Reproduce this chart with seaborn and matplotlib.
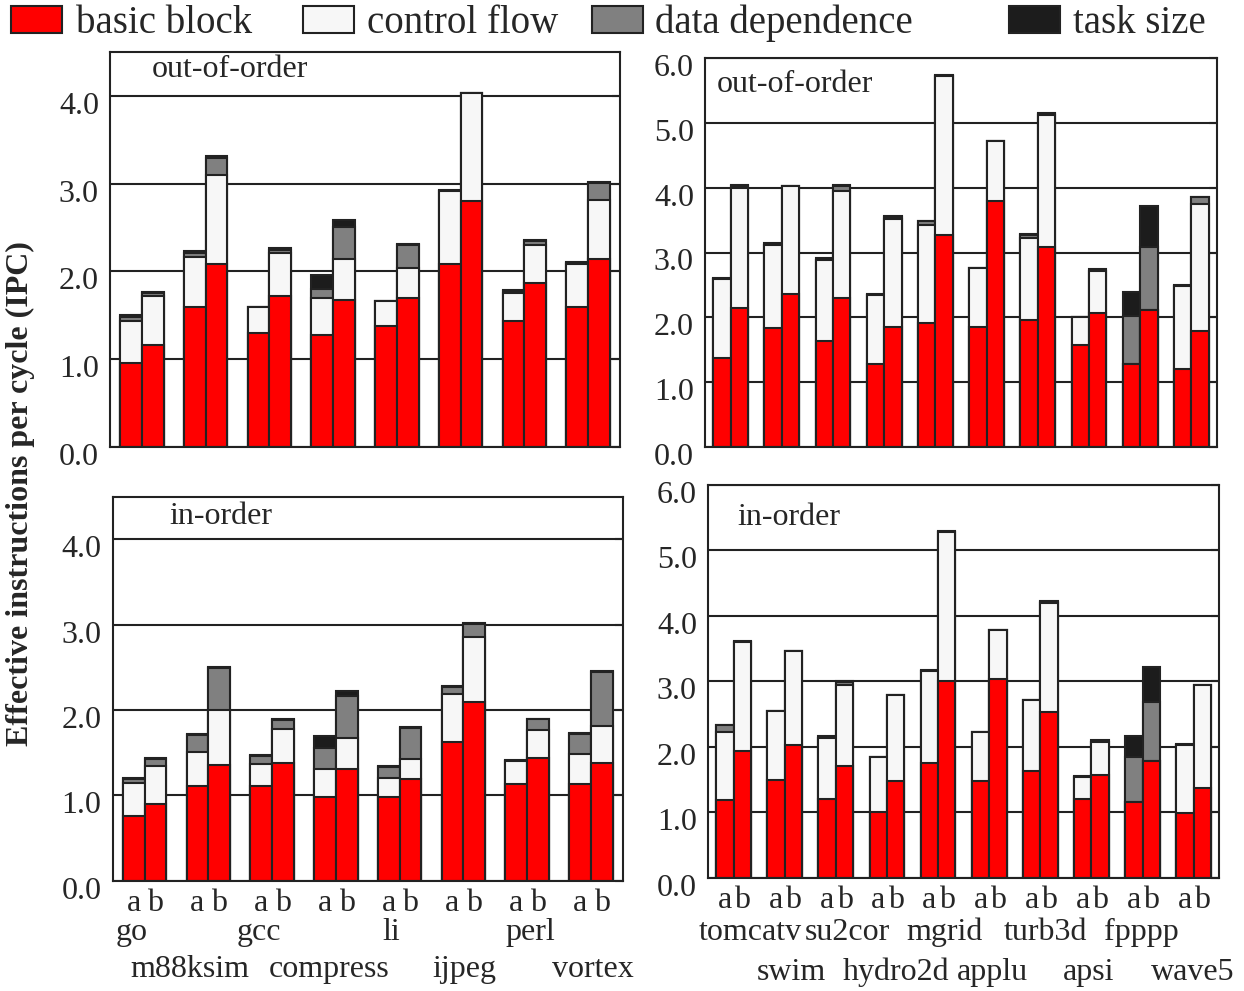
import numpy as np
import pandas as pd
import seaborn as sns
import matplotlib
matplotlib.use("Agg")
import matplotlib.pyplot as plt
from matplotlib.patches import Rectangle
from matplotlib.transforms import ScaledTranslation, blended_transform_factory

sns.set_style("white")
plt.rcParams['font.family'] = ['Liberation Serif', 'DejaVu Serif']

# benchmarks
int_bench = ['go', 'm88ksim', 'gcc', 'compress', 'li', 'ijpeg', 'perl', 'vortex']
fp_bench = ['tomcatv', 'swim', 'su2cor', 'hydro2d', 'mgrid', 'applu', 'turb3d', 'apsi', 'fpppp', 'wave5']

# integer, out-of-order: (a, b) per benchmark
int_ooo_bb = [(0.96, 1.16), (1.60, 2.09), (1.30, 1.72), (1.28, 1.68), (1.38, 1.70), (2.09, 2.80), (1.43, 1.87), (1.59, 2.14)]
int_ooo_cf = [(0.47, 0.56), (0.57, 1.01), (0.30, 0.49), (0.42, 0.46), (0.28, 0.34), (0.83, 1.23), (0.33, 0.43), (0.50, 0.67)]
int_ooo_dd = [(0.05, 0.03), (0.04, 0.19), (0.00, 0.04), (0.10, 0.37), (0.00, 0.26), (0.00, 0.00), (0.02, 0.05), (0.01, 0.20)]
int_ooo_ts = [(0.02, 0.02), (0.02, 0.03), (0.00, 0.02), (0.16, 0.08), (0.00, 0.01), (0.01, 0.00), (0.01, 0.01), (0.01, 0.01)]

# floating point, out-of-order
fp_ooo_bb = [(1.37, 2.15), (1.83, 2.36), (1.64, 2.30), (1.28, 1.86), (1.92, 3.27), (1.85, 3.79), (1.96, 3.09), (1.57, 2.07), (1.28, 2.12), (1.21, 1.79)]
fp_ooo_cf = [(1.22, 1.85), (1.28, 1.66), (1.25, 1.64), (1.07, 1.65), (1.51, 2.45), (0.91, 0.92), (1.27, 2.02), (0.43, 0.64), (0.00, 0.00), (1.27, 1.95)]
fp_ooo_dd = [(0.00, 0.02), (0.00, 0.00), (0.00, 0.08), (0.00, 0.04), (0.05, 0.00), (0.00, 0.00), (0.04, 0.03), (0.00, 0.00), (0.74, 0.96), (0.00, 0.11)]
fp_ooo_ts = [(0.01, 0.02), (0.03, 0.01), (0.03, 0.02), (0.01, 0.01), (0.01, 0.01), (0.00, 0.00), (0.01, 0.01), (0.00, 0.03), (0.37, 0.63), (0.02, 0.01)]

# integer, in-order
int_io_bb = [(0.76, 0.90), (1.11, 1.36), (1.11, 1.38), (0.98, 1.31), (0.98, 1.19), (1.62, 2.09), (1.13, 1.44), (1.13, 1.375)]
int_io_cf = [(0.39, 0.45), (0.40, 0.64), (0.26, 0.40), (0.33, 0.36), (0.22, 0.24), (0.57, 0.77), (0.27, 0.33), (0.35, 0.435)]
int_io_dd = [(0.04, 0.08), (0.20, 0.49), (0.09, 0.10), (0.25, 0.49), (0.13, 0.36), (0.08, 0.15), (0.00, 0.12), (0.24, 0.64)]
int_io_ts = [(0.01, 0.01), (0.01, 0.02), (0.01, 0.01), (0.13, 0.06), (0.01, 0.01), (0.01, 0.01), (0.01, 0.01), (0.01, 0.01)]

# floating point, in-order
fp_io_bb = [(1.18, 1.93), (1.49, 2.03), (1.21, 1.70), (1.00, 1.48), (1.76, 3.01), (1.48, 3.03), (1.63, 2.53), (1.20, 1.57), (1.15, 1.79), (0.99, 1.37)]
fp_io_cf = [(1.05, 1.67), (1.06, 1.43), (0.92, 1.24), (0.84, 1.31), (1.40, 2.27), (0.74, 0.76), (1.08, 1.66), (0.34, 0.51), (0.00, 0.00), (1.03, 1.57)]
fp_io_dd = [(0.10, 0.00), (0.00, 0.00), (0.00, 0.05), (0.00, 0.00), (0.00, 0.00), (0.00, 0.00), (0.00, 0.02), (0.00, 0.00), (0.69, 0.90), (0.00, 0.00)]
fp_io_ts = [(0.01, 0.02), (0.00, 0.00), (0.03, 0.01), (0.00, 0.00), (0.01, 0.02), (0.00, 0.00), (0.01, 0.02), (0.02, 0.03), (0.33, 0.53), (0.02, 0.00)]

legend_names = ['basic block', 'control flow', 'data dependence', 'task size']
colors = {'bb': '#ff0000', 'cf': '#f7f7f7', 'dd': '#808080', 'ts': '#1c1c1c'}
edge = '#222222'

# horizontal nudges (pixels) of the benchmark names, as set in the original
int_name_shift = [-13, -18, -13, -7, -8, 1, 3, 2]
fp_name_shift = [17, 7, 12, 9, 6, 3, 5, -3, -1, -1]

W, H = 1244, 991
fig = plt.figure(figsize=(W / 100, H / 100), dpi=100)


def make_frame(benches, bb, cf, dd, ts):
    rows = []
    for i, b in enumerate(benches):
        for j, cfg in enumerate(['a', 'b']):
            rows.append(dict(bench=b, cfg=cfg, bb=bb[i][j], cf=cf[i][j], dd=dd[i][j], ts=ts[i][j]))
    df = pd.DataFrame(rows)
    df['l_bb'] = df['bb']
    df['l_cf'] = df['l_bb'] + df['cf']
    df['l_dd'] = df['l_cf'] + df['dd']
    df['l_ts'] = df['l_dd'] + df['ts']
    return df


def draw_panel(rect_px, benches, bb, cf, dd, ts, ymax, nticks, label, label_pos,
               names_y=None, shifts=None):
    x0, y0, x1, y1 = rect_px
    ax = fig.add_axes([x0 / W, 1 - y1 / H, (x1 - x0) / W, (y1 - y0) / H])
    df = make_frame(benches, bb, cf, dd, ts)
    # draw cumulative layers from top down so each overlays the last
    for col, key in [('l_ts', 'ts'), ('l_dd', 'dd'), ('l_cf', 'cf'), ('l_bb', 'bb')]:
        sns.barplot(data=df, x='bench', y=col, hue='cfg', order=benches, hue_order=['a', 'b'],
                    palette=[colors[key], colors[key]], saturation=1, width=0.68, gap=0,
                    edgecolor=edge, linewidth=1.5, errorbar=None, legend=False, ax=ax)
    n = len(benches)
    ax.set_xlim(-0.5, n - 0.5)
    ax.set_ylim(0, ymax)
    ax.set_xlabel('')
    ax.set_ylabel('')
    ax.set_yticks(np.arange(nticks + 1))
    ax.set_yticklabels([f'{v:.1f}' for v in range(nticks + 1)], fontsize=23)
    ax.tick_params(axis='y', direction='in', length=6, width=1.5, color=edge, right=True, pad=8)
    off = ScaledTranslation(0, -7 / 100, fig.dpi_scale_trans)
    for lab in ax.get_yticklabels():
        lab.set_transform(lab.get_transform() + off)
    ax.yaxis.grid(True, color=edge, linewidth=1.5)
    ax.set_axisbelow(True)
    for s in ax.spines.values():
        s.set_color(edge)
        s.set_linewidth(1.5)
    if names_y is None:
        ax.set_xticks([])
    else:
        pos = []
        labs = []
        for i in range(n):
            pos += [i - 0.17, i + 0.17]
            labs += ['a', 'b']
        ax.set_xticks(pos)
        ax.set_xticklabels(labs, fontsize=23)
        ax.tick_params(axis='x', length=0, pad=6)
        tr = blended_transform_factory(ax.transData, fig.transFigure)
        for i, b in enumerate(benches):
            yy = names_y[i % 2]
            t = tr + ScaledTranslation(shifts[i] / 100, 0, fig.dpi_scale_trans)
            ax.text(i, 1 - yy / H, b, transform=t, ha='center', va='baseline', fontsize=23)
    tr = blended_transform_factory(ax.transAxes, ax.transData)
    ax.text(label_pos[0], label_pos[1], label, transform=tr, ha='left', va='center', fontsize=23)
    return ax


draw_panel((110, 52, 620, 447), int_bench, int_ooo_bb, int_ooo_cf, int_ooo_dd, int_ooo_ts,
           4.5, 4, 'out-of-order', (0.082, 4.3))
draw_panel((705, 57.7, 1217, 447.3), fp_bench, fp_ooo_bb, fp_ooo_cf, fp_ooo_dd, fp_ooo_ts,
           6.0, 6, 'out-of-order', (0.023, 5.59))
draw_panel((112.7, 496.7, 622.7, 880.7), int_bench, int_io_bb, int_io_cf, int_io_dd, int_io_ts,
           4.5, 4, 'in-order', (0.112, 4.27), names_y=(940, 977), shifts=int_name_shift)
draw_panel((708, 485, 1219.3, 877.7), fp_bench, fp_io_bb, fp_io_cf, fp_io_dd, fp_io_ts,
           6.0, 6, 'in-order', (0.057, 5.5), names_y=(940, 980), shifts=fp_name_shift)

# legend across the top
patch_x = [11, 303, 592, 1009]
text_x = [76, 367, 655, 1073]
for name, key, px, tx in zip(legend_names, ['bb', 'cf', 'dd', 'ts'], patch_x, text_x):
    fig.add_artist(Rectangle((px / W, 1 - 33 / H), 51 / W, 27 / H, transform=fig.transFigure,
                             facecolor=colors[key], edgecolor=edge, linewidth=1.5))
    fig.text(tx / W, 1 - 33 / H, name, ha='left', va='baseline', fontsize=28)

fig.text(20 / W, 1 - 494 / H, 'Effective instructions per cycle (IPC)', rotation=90,
         ha='center', va='center', fontsize=23, fontweight='bold')

fig.savefig('out.png', dpi=100)
